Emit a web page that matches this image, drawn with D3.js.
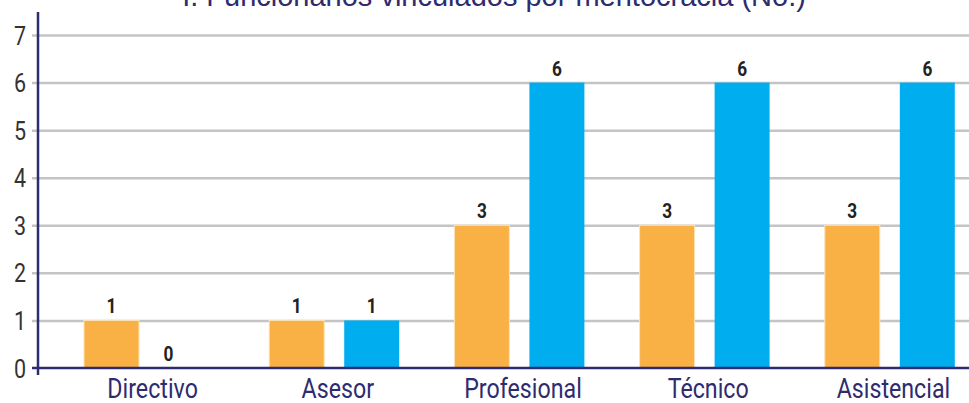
<!DOCTYPE html>
<html>
<head>
<meta charset="utf-8">
<script src="https://cdn.jsdelivr.net/npm/d3@7"></script>
<style>
  body { margin: 0; background: #fff; }
  svg { display: block; }
  text { font-family: Roboto, 'Liberation Sans', sans-serif; }
</style>
</head>
<body>
<div id="chart"></div>
<script>
const categories = ['Directivo', 'Asesor', 'Profesional', 'Técnico', 'Asistencial'];
const series = ['s1', 's2'];
const seriesA = [1, 1, 3, 3, 3];
const seriesB = [0, 1, 6, 6, 6];
const yTicks = [0, 1, 2, 3, 4, 5, 6, 7];
const title = 'I. Funcionarios vinculados por meritocracia (No.)';

const W = 969, H = 403;
const NAVY = '#2e2b6e';
const COLORS = { s1: '#F9B044', s2: '#00AEEF' };
const NARROW = 0.86; // squeeze to mimic a condensed face

const svg = d3.select('#chart').append('svg').attr('width', W).attr('height', H);

const axisX = 38;
const y = d3.scaleLinear().domain([0, 7]).range([368, 35]);
const x0 = d3.scaleBand().domain(categories).range([56, 982]);
const x1 = d3.scaleBand().domain(series).range([28, 158]).paddingInner(0.267);

// title (cut off at top, as in the source)
svg.append('text').attr('x', 494).attr('y', 6).attr('text-anchor', 'middle')
  .style('font-family', "'Liberation Sans', Arial, sans-serif")
  .attr('fill', NAVY).attr('font-size', '29px').text(title);

// gridlines + y labels
svg.append('g')
  .call(d3.axisLeft(y).tickValues(yTicks).tickSize(0).tickFormat(d3.format('d')))
  .attr('transform', `translate(${axisX},0)`)
  .call(g => g.select('.domain').remove())
  .call(g => g.selectAll('.tick text').attr('fill', '#333').attr('font-size', '25px')
    .attr('dy', '0.36em').attr('x', -12 / NARROW).attr('transform', `scale(${NARROW},1)`))
  .call(g => g.selectAll('.tick').filter(d => d > 0).append('line')
    .attr('x1', -6).attr('x2', W - axisX).attr('stroke', '#c4c4c4').attr('stroke-width', 2.5));

const data = categories.map((c, i) => ({ cat: c, vals: [
  { key: 's1', v: seriesA[i] }, { key: 's2', v: seriesB[i] }
] }));

const groups = svg.append('g').selectAll('g').data(data).join('g')
  .attr('transform', d => `translate(${x0(d.cat)},0)`);

groups.selectAll('rect').data(d => d.vals).join('rect')
  .attr('x', d => x1(d.key)).attr('width', x1.bandwidth())
  .attr('y', d => y(d.v)).attr('height', d => y(0) - y(d.v))
  .attr('fill', d => COLORS[d.key])
  .attr('stroke', d => d.key === 's1' ? '#fde3b8' : 'none').attr('stroke-width', 1);

groups.selectAll('text.val').data(d => d.vals).join('text').attr('class', 'val')
  .attr('transform', d => `translate(${x1(d.key) + x1.bandwidth() / 2 + (d.v === 0 ? -18 : 0)},${y(d.v) - 7}) scale(0.82,1)`)
  .attr('text-anchor', 'middle').attr('fill', '#222').attr('font-size', '21px').attr('font-weight', 'bold')
  .text(d => d.v);

// x axis line
svg.append('line').attr('x1', axisX - 6).attr('x2', W).attr('y1', y(0)).attr('y2', y(0))
  .attr('stroke', NAVY).attr('stroke-width', 2.5);
// y axis line
svg.append('line').attr('x1', axisX).attr('x2', axisX).attr('y1', 12).attr('y2', 375)
  .attr('stroke', NAVY).attr('stroke-width', 2.5);

// category labels
svg.append('g').selectAll('text').data(categories).join('text')
  .attr('transform', d => `translate(${x0(d) + x0.bandwidth() / 2 + 4},398) scale(${NARROW},1)`)
  .attr('text-anchor', 'middle').attr('fill', NAVY).attr('font-size', '27px')
  .text(d => d);
</script>
</body>
</html>
